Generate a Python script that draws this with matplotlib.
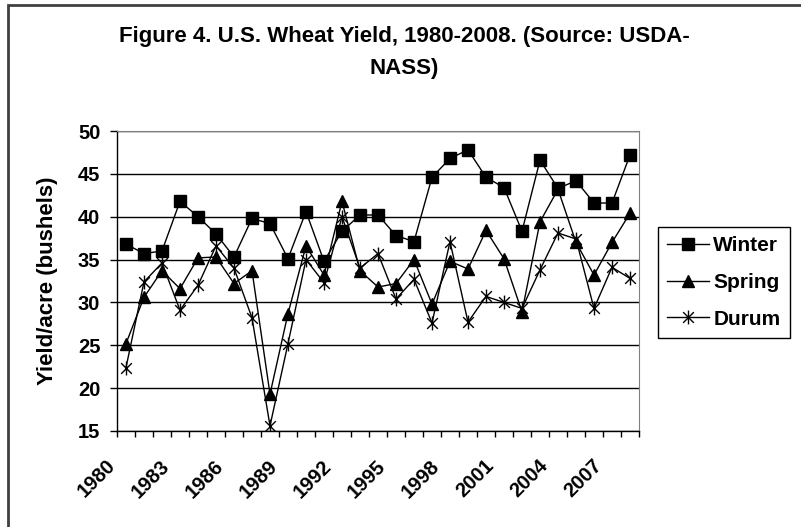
import matplotlib.pyplot as plt
import numpy as np
from matplotlib.path import Path
from matplotlib.patches import Rectangle
from matplotlib.transforms import ScaledTranslation

# yields (bushels/acre)
years = list(range(1980, 2009))
winter = [36.8, 35.7, 36.0, 41.8, 40.0, 38.0, 35.3, 39.8, 39.2, 35.1,
          40.6, 34.8, 38.3, 40.2, 40.2, 37.8, 37.1, 44.6, 46.8, 47.8,
          44.6, 43.4, 38.3, 46.6, 43.3, 44.2, 41.6, 41.6, 47.2]
spring = [25.2, 30.6, 33.7, 31.6, 35.2, 35.3, 32.2, 33.7, 19.3, 28.7,
          36.6, 33.2, 41.8, 33.7, 31.8, 32.2, 35.0, 29.8, 34.8, 33.9,
          38.4, 35.1, 28.9, 39.4, 43.2, 37.0, 33.2, 37.0, 40.4]
durum = [22.4, 32.4, 34.6, 29.1, 32.0, 36.6, 34.0, 28.2, 15.6, 25.2,
         35.0, 32.3, 40.0, 34.0, 35.7, 30.4, 32.7, 27.6, 37.1, 27.7,
         30.7, 30.0, 29.3, 33.8, 38.1, 37.4, 29.3, 34.1, 32.8]

plt.rcParams['font.family'] = ['Liberation Sans', 'DejaVu Sans']
plt.rcParams['font.weight'] = 'bold'
plt.rcParams['axes.labelweight'] = 'bold'

# Excel style asterisk: an X with a vertical bar
asterisk = Path([(-1, -1), (1, 1), (-1, 1), (1, -1), (0, -1.3), (0, 1.3)],
                [Path.MOVETO, Path.LINETO, Path.MOVETO, Path.LINETO,
                 Path.MOVETO, Path.LINETO])

fig = plt.figure(figsize=(8.01, 5.27), dpi=100)
ax = fig.add_axes([117 / 801, 1 - 431 / 527, (639 - 117) / 801, (431 - 131) / 527])

x = np.arange(len(years))
ax.plot(x, winter, color='black', lw=1.0, marker='s', ms=8, label='Winter')
ax.plot(x, spring, color='black', lw=1.0, marker='^', ms=8, label='Spring')
ax.plot(x, durum, color='black', lw=1.0, marker=asterisk, ms=10, mew=1.0,
        mfc='none', label='Durum')

ax.set_xlim(-0.5, len(years) - 0.5)
ax.set_ylim(15, 50)
ax.set_yticks(range(15, 51, 5))
ax.yaxis.grid(True, color='black', lw=1.0)
ax.set_axisbelow(True)

ax.set_xticks(x[::3])
ax.set_xticklabels([str(y) for y in years[::3]], rotation=45, ha='right',
                   rotation_mode='anchor', va='center')
ax.set_xticks(np.arange(-0.5, len(years)), minor=True)
ax.tick_params(axis='x', which='major', length=0, pad=23, labelsize=14.5)
ax.tick_params(axis='x', which='minor', length=4.5, width=1, direction='out')
ax.tick_params(axis='y', length=5, width=1, pad=7, labelsize=14.5)
shift = ScaledTranslation(-0.13, 0, fig.dpi_scale_trans)
for lab in ax.get_xticklabels():
    lab.set_transform(lab.get_transform() + shift)

for side in ['top', 'right']:
    ax.spines[side].set_color('#808080')
ax.spines['left'].set_linewidth(1.0)
ax.spines['bottom'].set_linewidth(1.0)

ax.set_ylabel('Yield/acre (bushels)', fontsize=16, fontweight='bold', labelpad=14)

leg = ax.legend(loc='upper left', bbox_to_anchor=(658 / 801, 1 - 227 / 527),
                bbox_transform=fig.transFigure, borderaxespad=0, fontsize=15,
                frameon=True, fancybox=False, edgecolor='black', framealpha=1,
                handlelength=2.0, handletextpad=0.2, labelspacing=0.85,
                borderpad=0.45)
leg.get_frame().set_linewidth(1.0)

fig.text(404 / 801, 1 - 42 / 527, 'Figure 4. U.S. Wheat Yield, 1980-2008. (Source: USDA-',
         ha='center', va='baseline', fontsize=16)
fig.text(404 / 801, 1 - 74 / 527, 'NASS)', ha='center', va='baseline', fontsize=16)

# chart area border (only top and left edges fall inside the picture)
fig.patches.append(Rectangle((8 / 801, -0.1), 1.2, 1 - 5 / 527 + 0.1,
                             transform=fig.transFigure, fill=False,
                             edgecolor='#404040', lw=2))

fig.savefig('out.png', dpi=100)
